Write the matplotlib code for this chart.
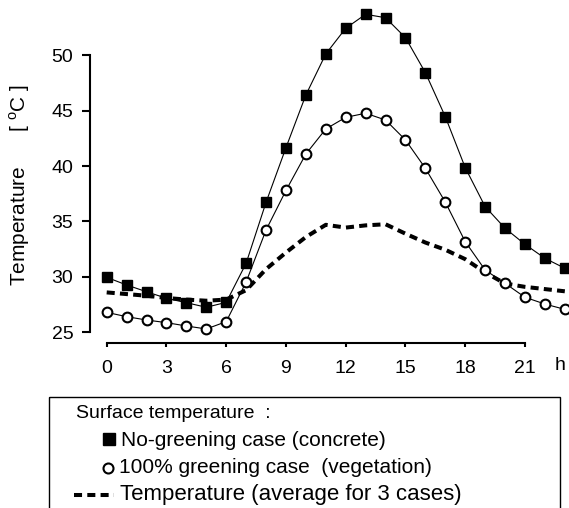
import matplotlib
matplotlib.use("Agg")
import matplotlib.pyplot as plt
from matplotlib.patches import Rectangle
from matplotlib.lines import Line2D

# %% Style
FONT = "Liberation Sans"
plt.rcParams.update(
    {
        "font.family": FONT,
        "font.size": 14,
        "mathtext.fontset": "custom",
        "mathtext.rm": FONT,
        "axes.spines.right": False,
        "axes.spines.top": False,
        "axes.linewidth": 1.5,
    }
)

# %% Data
hours = list(range(24))
concrete = [29.96, 29.27, 28.66, 28.07, 27.67, 27.26, 27.70, 31.23,
            36.73, 41.66, 46.42, 50.12, 52.44, 53.70, 53.39, 51.59,
            48.43, 44.46, 39.86, 36.34, 34.39, 32.94, 31.68, 30.78]
vegetation = [26.80, 26.41, 26.11, 25.87, 25.57, 25.30, 25.96, 29.54,
              34.23, 37.80, 41.09, 43.35, 44.40, 44.77, 44.16, 42.36,
              39.80, 36.75, 33.18, 30.62, 29.42, 28.16, 27.55, 27.07]
average = [28.60, 28.45, 28.30, 28.10, 27.95, 27.85, 27.95, 28.80,
           30.70, 32.20, 33.60, 34.70, 34.45, 34.65, 34.75, 33.90,
           33.10, 32.45, 31.60, 30.40, 29.40, 29.10, 28.90, 28.70]
xticks = [0, 3, 6, 9, 12, 15, 18, 21]
yticks = [25, 30, 35, 40, 45, 50]

W, H = 569, 508
fig = plt.figure(figsize=(W / 100, H / 100), dpi=100)
ax = fig.add_axes([90 / W, 1 - 343.3 / H, 1 - 90 / W, 343.3 / H])

ax.plot(hours, average, color="black", lw=2.9, dashes=(2.0, 1.3))
ax.plot(hours, concrete, color="black", lw=0.8, marker="s", ms=7.6,
        mfc="black", mec="black")
ax.plot(hours, vegetation, color="black", lw=0.8, marker="o", ms=7.0,
        mfc="white", mec="black", mew=1.5)

ax.set_xlim(-0.838, 23.21)
ax.set_ylim(24.007, 54.99)
ax.spines["left"].set_bounds(25, 50)
ax.spines["bottom"].set_bounds(0, 21)
ax.set_xticks(xticks)
ax.set_yticks(yticks)
ax.tick_params(axis="y", direction="out", length=6, width=1.5, pad=6)
ax.tick_params(axis="x", direction="out", length=3, width=1.5, pad=9)
ax.set_ylabel("Temperature      [ $^{\\mathrm{o}}$C ]", fontsize=15)
ax.yaxis.set_label_coords(-0.122, 0.462)
fig.text(560 / W, 1 - 365 / H, "h", ha="center", va="center", fontsize=14)

# %% Legend box drawn in pixel coordinates
lg = fig.add_axes([0, 0, 1, 1], facecolor="none")
lg.set_xlim(0, W)
lg.set_ylim(H, 0)
lg.axis("off")
lg.add_patch(Rectangle((49.5, 396.5), 511, 140, fill=False, lw=1.0,
                       edgecolor="black", clip_on=False))
lg.text(76, 414, "Surface temperature  :", va="center", fontsize=14)
lg.plot([109], [439], marker="s", ms=8.4, color="black")
lg.text(121, 440.5, "No-greening case (concrete)", va="center", fontsize=15)
lg.plot([108], [467.5], marker="o", ms=7.2, mfc="white", mec="black", mew=1.5)
lg.text(119, 467.5, "100% greening case  (vegetation)", va="center", fontsize=15)
lg.add_line(Line2D([74, 114], [495, 495], color="black", lw=2.9, dashes=(2.0, 1.3)))
lg.text(120, 494.5, "Temperature (average for 3 cases)", va="center", fontsize=16)

fig.savefig("out.png", dpi=100)
